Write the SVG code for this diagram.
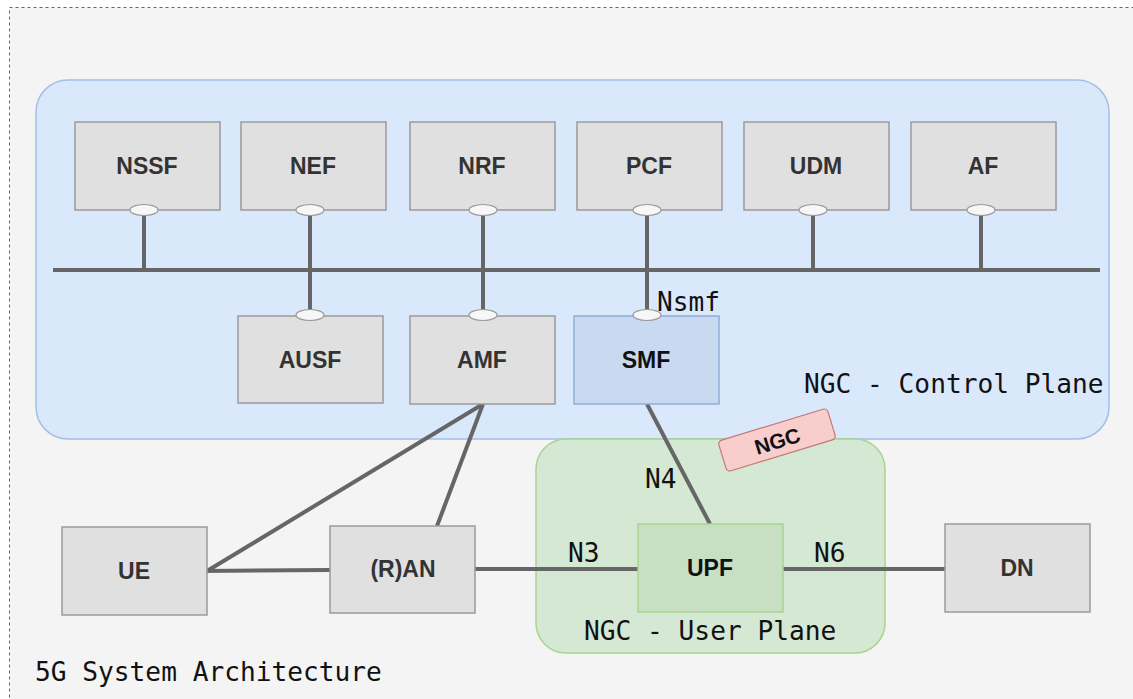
<svg xmlns="http://www.w3.org/2000/svg" width="1133" height="699" viewBox="0 0 1133 699">
<style>
.box{fill:#e0e0e0;stroke:#9a9a9a;stroke-width:1.5}
.lbl{font-family:"Liberation Sans",Arial,sans-serif;font-weight:bold;font-size:23px;fill:#333;text-anchor:middle;dominant-baseline:central}
.mono{font-family:"DejaVu Sans Mono","Liberation Mono",monospace;font-size:26.2px;fill:#111}
.line{stroke:#666;stroke-width:4;fill:none}
.port{fill:#f7f7f7;stroke:#999;stroke-width:1.2}
</style>
<rect x="0" y="0" width="1133" height="699" fill="#ffffff"/>
<rect id="frame" x="9.5" y="7.5" width="1140" height="720" fill="#f4f4f4" stroke="#666" stroke-width="1" stroke-dasharray="3 3"/>
<g id="control-plane">
<rect x="36" y="80" width="1073" height="359" rx="32" fill="#dae8fc" stroke="#a4bfe6" stroke-width="1.5"/>
<text class="mono" x="804" y="393">NGC - Control Plane</text>
</g>
<g id="user-plane">
<rect x="536" y="439" width="349" height="214" rx="30" fill="#d5e8d4" stroke="#a8d48e" stroke-width="1.5"/>
<text class="mono" x="584" y="640">NGC - User Plane</text>
</g>
<g id="connectors">
<line class="line" x1="53" y1="270" x2="1100" y2="270" stroke-width="5"/>
<line class="line" x1="144" y1="210" x2="144" y2="270"/>
<line class="line" x1="310" y1="210" x2="310" y2="316"/>
<line class="line" x1="483" y1="210" x2="483" y2="316"/>
<line class="line" x1="647" y1="210" x2="647" y2="316"/>
<line class="line" x1="813" y1="210" x2="813" y2="270"/>
<line class="line" x1="981" y1="210" x2="981" y2="270"/>
<polyline class="line" points="483,404 207,571 330,570"/>
<line class="line" x1="483" y1="404" x2="437" y2="526"/>
<line class="line" x1="475" y1="569" x2="638" y2="569"/>
<line class="line" x1="783" y1="569" x2="945" y2="569"/>
<line class="line" x1="647" y1="404" x2="710" y2="524"/>
<text class="mono" x="657" y="311">Nsmf</text>
<text class="mono" x="645" y="488">N4</text>
<text class="mono" x="568" y="562">N3</text>
<text class="mono" x="814" y="562">N6</text>
</g>
<g id="NSSF"><rect class="box" x="75" y="122" width="145" height="88"/><text class="lbl" x="147" y="166">NSSF</text><ellipse class="port" cx="144" cy="210" rx="14" ry="5.5"/></g>
<g id="NEF"><rect class="box" x="241" y="122" width="145" height="88"/><text class="lbl" x="313" y="166">NEF</text><ellipse class="port" cx="310" cy="210" rx="14" ry="5.5"/></g>
<g id="NRF"><rect class="box" x="410" y="122" width="145" height="88"/><text class="lbl" x="482" y="166">NRF</text><ellipse class="port" cx="483" cy="210" rx="14" ry="5.5"/></g>
<g id="PCF"><rect class="box" x="577" y="122" width="145" height="88"/><text class="lbl" x="649" y="166">PCF</text><ellipse class="port" cx="647" cy="210" rx="14" ry="5.5"/></g>
<g id="UDM"><rect class="box" x="744" y="122" width="145" height="88"/><text class="lbl" x="816" y="166">UDM</text><ellipse class="port" cx="813" cy="210" rx="14" ry="5.5"/></g>
<g id="AF"><rect class="box" x="911" y="122" width="145" height="88"/><text class="lbl" x="983" y="166">AF</text><ellipse class="port" cx="981" cy="210" rx="14" ry="5.5"/></g>
<g id="AUSF"><rect class="box" x="238" y="316" width="145" height="87"/><text class="lbl" x="310" y="360">AUSF</text><ellipse class="port" cx="310" cy="315" rx="14" ry="5.5"/></g>
<g id="AMF"><rect class="box" x="410" y="316" width="145" height="88"/><text class="lbl" x="482" y="360">AMF</text><ellipse class="port" cx="483" cy="315" rx="14" ry="5.5"/></g>
<g id="SMF"><rect x="574" y="316" width="145" height="88" fill="#c9daf0" stroke="#8fadd9" stroke-width="1.5"/><text class="lbl" x="646" y="360" style="fill:#111">SMF</text><ellipse class="port" cx="647" cy="315" rx="14" ry="5.5"/></g>
<g id="UE"><rect class="box" x="62" y="527" width="145" height="88"/><text class="lbl" x="134" y="571">UE</text></g>
<g id="RAN"><rect class="box" x="330" y="526" width="145" height="87"/><text class="lbl" x="403" y="569">(R)AN</text></g>
<g id="UPF"><rect x="638" y="524" width="145" height="88" fill="#c8dfc4" stroke="#a8d48e" stroke-width="1.5"/><text class="lbl" x="710" y="568" style="fill:#111">UPF</text></g>
<g id="DN"><rect class="box" x="945" y="524" width="145" height="88"/><text class="lbl" x="1017" y="568">DN</text></g>
<g id="NGC-tag" transform="translate(777,440) rotate(-17)">
<rect x="-57" y="-16" width="114" height="32" rx="4" fill="#f8cecc" stroke="#c47874" stroke-width="1.2"/>
<text class="lbl" x="0" y="1" style="font-size:21px;fill:#111">NGC</text>
</g>
<text class="mono" x="35" y="681">5G System Architecture</text>
</svg>
